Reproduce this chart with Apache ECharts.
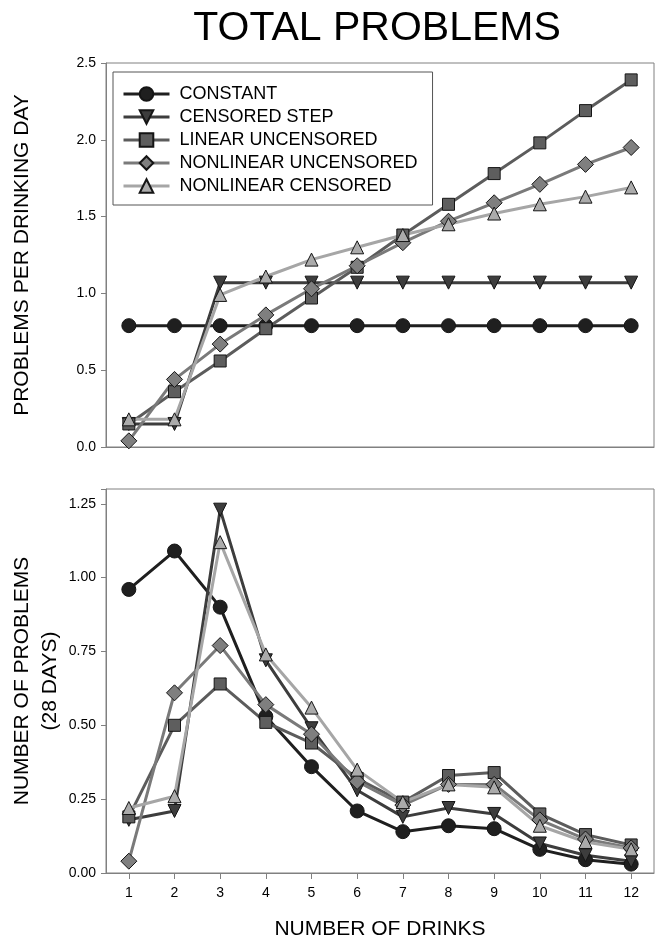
<!DOCTYPE html>
<html><head><meta charset="utf-8">
<script src="https://cdn.jsdelivr.net/npm/echarts@6/dist/echarts.min.js"></script>
<style>html,body{margin:0;padding:0;background:#fff}#c{width:669px;height:944px}</style>
</head><body><div id="c"></div>
<script>
const drinks = ['1','2','3','4','5','6','7','8','9','10','11','12'];
const seriesNames = ['CONSTANT','CENSORED STEP','LINEAR UNCENSORED','NONLINEAR UNCENSORED','NONLINEAR CENSORED'];
const topTicks = [0, 0.5, 1.0, 1.5, 2.0, 2.5];
const bottomTicks = [0, 0.25, 0.5, 0.75, 1.0, 1.25];

// Problems per drinking day
const perDayConstant   = [0.79,0.79,0.79,0.79,0.79,0.79,0.79,0.79,0.79,0.79,0.79,0.79];
const perDayStep       = [0.15,0.15,1.07,1.07,1.07,1.07,1.07,1.07,1.07,1.07,1.07,1.07];
const perDayLinear     = [0.15,0.36,0.56,0.77,0.97,1.17,1.38,1.58,1.78,1.98,2.19,2.39];
const perDayNonlinU    = [0.04,0.44,0.67,0.86,1.03,1.18,1.33,1.47,1.59,1.71,1.84,1.95];
const perDayNonlinC    = [0.18,0.18,0.99,1.11,1.22,1.30,1.38,1.45,1.52,1.58,1.63,1.69];

// Number of problems (28 days)
const countConstant    = [0.96,1.09,0.90,0.53,0.36,0.21,0.14,0.16,0.15,0.08,0.045,0.03];
const countStep        = [0.18,0.21,1.23,0.72,0.49,0.28,0.19,0.22,0.20,0.10,0.06,0.04];
const countLinear      = [0.19,0.50,0.64,0.51,0.44,0.32,0.24,0.33,0.34,0.20,0.13,0.095];
const countNonlinU     = [0.04,0.61,0.77,0.57,0.47,0.31,0.23,0.30,0.30,0.18,0.115,0.085];
const countNonlinC     = [0.22,0.26,1.12,0.74,0.56,0.35,0.24,0.30,0.29,0.16,0.105,0.08];

const topData = [perDayConstant, perDayStep, perDayLinear, perDayNonlinU, perDayNonlinC];
const bottomData = [countConstant, countStep, countLinear, countNonlinU, countNonlinC];

const FONT = "'Liberation Sans', Arial, sans-serif";
const styles = [
  {symbol:'circle',   rotate:0,   size:14, fill:'#1f1f1f', line:'#1f1f1f'},
  {symbol:'triangle', rotate:180, size:13, fill:'#3d3d3d', line:'#3d3d3d'},
  {symbol:'rect',     rotate:0,   size:12, fill:'#5e5e5e', line:'#5c5c5c'},
  {symbol:'diamond',  rotate:0,   size:16, fill:'#7f7f7f', line:'#7a7a7a'},
  {symbol:'triangle', rotate:0,   size:13, fill:'#ababab', line:'#a6a6a6'}
];

function mkSeries(data, gi) {
  return data.map((d, i) => ({
    name: seriesNames[i], type: 'line', xAxisIndex: gi, yAxisIndex: gi,
    data: d, symbol: styles[i].symbol, symbolRotate: styles[i].rotate,
    symbolSize: styles[i].size, showAllSymbol: true, animation: false,
    lineStyle: {color: styles[i].line, width: 3},
    itemStyle: {color: styles[i].fill, borderColor: '#151515', borderWidth: 1},
    emphasis: {disabled: true}
  }));
}

const axisGrey = '#808080';
const chart = echarts.init(document.getElementById('c'), null, {renderer: 'canvas'});
chart.setOption({
  animation: false,
  backgroundColor: '#fff',
  title: {text: 'TOTAL PROBLEMS', left: 372, top: 3, textAlign: 'center',
    textStyle: {fontFamily: FONT, fontSize: 41, fontWeight: 'normal', color: '#000'}},
  legend: {
    left: 113, top: 72, orient: 'vertical',
    padding: [13, 15, 10, 9], itemWidth: 46, itemHeight: 17, itemGap: 5,
    borderColor: '#555', borderWidth: 1, backgroundColor: '#fff',
    lineStyle: {width: 3},
    textStyle: {fontFamily: FONT, fontSize: 18, color: '#000', padding: [0,0,0,5]},
    data: seriesNames, selectedMode: false
  },
  grid: [
    {left: 106, right: 15, top: 63, height: 384, show: true, borderColor: axisGrey, borderWidth: 1},
    {left: 106, right: 15, top: 489, height: 384, show: true, borderColor: axisGrey, borderWidth: 1}
  ],
  xAxis: [
    {type: 'category', gridIndex: 0, data: drinks, boundaryGap: true,
      axisLine: {lineStyle: {color: axisGrey}}, axisTick: {show: false}, axisLabel: {show: false}},
    {type: 'category', gridIndex: 1, data: drinks, boundaryGap: true,
      axisLine: {lineStyle: {color: axisGrey}},
      axisTick: {show: true, alignWithLabel: true, length: 6, lineStyle: {color: axisGrey}},
      axisLabel: {margin: 13, fontFamily: FONT, fontSize: 14, color: '#000'}}
  ],
  yAxis: [
    {type: 'value', gridIndex: 0, min: topTicks[0], max: topTicks[topTicks.length-1], interval: 0.5,
      splitLine: {show: false},
      axisLine: {show: true, lineStyle: {color: axisGrey}},
      axisTick: {show: true, length: 5, lineStyle: {color: axisGrey}},
      axisLabel: {margin: 10, fontFamily: FONT, fontSize: 14, color: '#000', formatter: v => v.toFixed(1)}},
    {type: 'value', gridIndex: 1, min: 0, max: 1.3, interval: 0.25,
      splitLine: {show: false},
      axisLine: {show: true, lineStyle: {color: axisGrey}},
      axisTick: {show: true, length: 5, lineStyle: {color: axisGrey}},
      axisLabel: {margin: 10, fontFamily: FONT, fontSize: 14, color: '#000',
        formatter: v => bottomTicks.some(t => Math.abs(t - v) < 1e-6) ? v.toFixed(2) : ''}}
  ],
  graphic: [
    {type: 'text', x: 22, y: 255, rotation: Math.PI/2,
      style: {text: 'PROBLEMS PER DRINKING DAY', font: "21px 'Liberation Sans', Arial, sans-serif", fill: '#000', align: 'center', verticalAlign: 'middle'}},
    {type: 'text', x: 22, y: 681, rotation: Math.PI/2,
      style: {text: 'NUMBER OF PROBLEMS', font: "21px 'Liberation Sans', Arial, sans-serif", fill: '#000', align: 'center', verticalAlign: 'middle'}},
    {type: 'text', x: 50, y: 681, rotation: Math.PI/2,
      style: {text: '(28 DAYS)', font: "21px 'Liberation Sans', Arial, sans-serif", fill: '#000', align: 'center', verticalAlign: 'middle'}},
    {type: 'text', x: 380, y: 929,
      style: {text: 'NUMBER OF DRINKS', font: "21px 'Liberation Sans', Arial, sans-serif", fill: '#000', align: 'center', verticalAlign: 'middle'}}
  ],
  series: mkSeries(topData, 0).concat(mkSeries(bottomData, 1))
});
</script>
</body></html>
